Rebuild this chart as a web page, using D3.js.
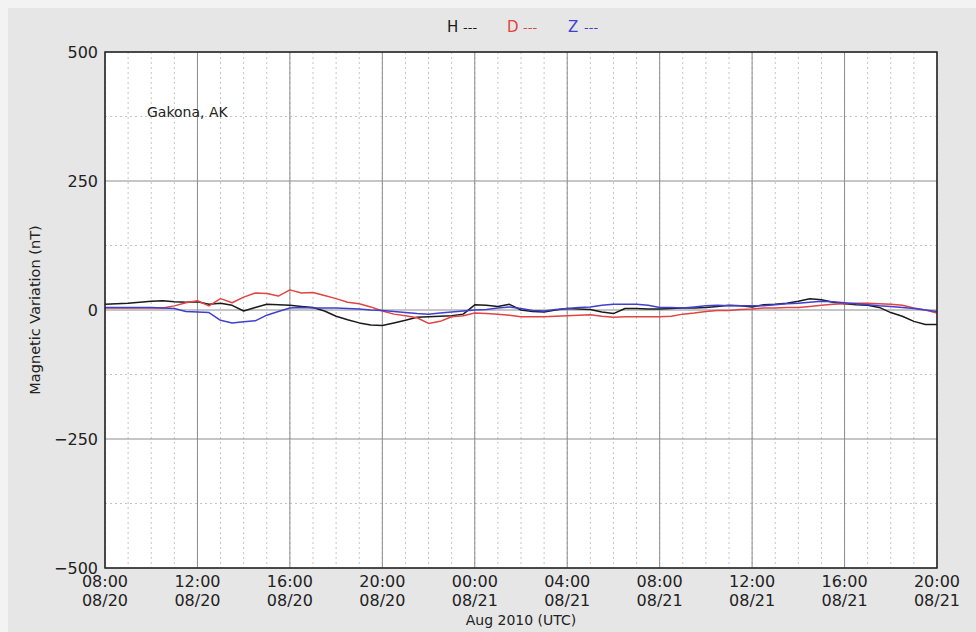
<!DOCTYPE html>
<html>
<head>
<meta charset="utf-8">
<script src="https://cdn.jsdelivr.net/npm/d3@7"></script>
<style>
  html, body { margin: 0; padding: 0; overflow: hidden; background: #f3f3f3; }
  svg { display: block; }
  text { font-family: "DejaVu Sans", sans-serif; fill: #222; }
</style>
</head>
<body>
<div id="chart"></div>
<script>
// Station and axis text.
const station = "Gakona, AK";
const yTicks = [-500, -250, 0, 250, 500];
const yMinorTicks = [-375, -125, 125, 375];
const xTickDates = ["08/20", "08/20", "08/20", "08/20", "08/21", "08/21", "08/21", "08/21", "08/21", "08/21"];

// Samples every 30 minutes, 2010-08-20 08:00 .. 2010-08-21 20:00 UTC.
const startTime = new Date(Date.UTC(2010, 7, 20, 8, 0));
const endTime = new Date(Date.UTC(2010, 7, 21, 20, 0));
const stepMinutes = 30;

const hValues = [11, 12, 13, 15, 17, 18, 16, 15, 16, 11, 13, 9, -2, 5, 11, 10, 9, 7, 5, -2,
  -12, -19, -25, -29, -30, -25, -20, -14, -13, -12, -11, -8, 10, 9, 7, 11, 0, -3, -4, 0,
  3, 2, 1, -4, -7, 3, 3, 2, 2, 3, 4, 4, 5, 7, 9, 8, 6, 10, 11, 13,
  17, 22, 20, 15, 12, 10, 9, 5, -5, -12, -22, -28, -28];
const dValues = [4, 4, 4, 4, 4, 4, 8, 14, 18, 8, 22, 14, 25, 33, 32, 27, 39, 33, 34, 28,
  22, 15, 12, 6, -2, -8, -11, -15, -26, -22, -13, -11, -6, -7, -8, -10, -13, -13, -13, -12,
  -11, -10, -9, -12, -14, -13, -13, -13, -13, -12, -8, -6, -3, -1, -1, 1, 2, 4, 4, 5,
  5, 7, 9, 11, 12, 13, 13, 12, 11, 9, 4, 0, -6];
const zValues = [5, 5, 5, 5, 5, 4, 3, -3, -4, -5, -20, -25, -23, -21, -10, -3, 4, 5, 4, 4,
  4, 3, 2, 0, -1, -3, -5, -7, -8, -6, -4, -2, 0, 1, 4, 6, 3, -1, -2, 1,
  3, 5, 6, 9, 11, 11, 11, 9, 5, 5, 4, 6, 8, 9, 8, 8, 8, 8, 10, 12,
  13, 15, 17, 16, 14, 12, 10, 8, 7, 5, 3, 0, -3];

const seriesNames = ["H", "D", "Z"];
const seriesColors = ["#1a1a1a", "#e04444", "#4040d0"];

// Chart elements.
let svg = null;
let plot = null;
let labels = null;
let xScale = null;
let yScale = null;

const width = 976;
const height = 632;
const padding = { top: 52, right: 39, bottom: 64, left: 105 };
const innerWidth = width - padding.left - padding.right;
const innerHeight = height - padding.top - padding.bottom;

function buildSeries(values) {
  return values.map((v, i) => ({
    time: new Date(startTime.getTime() + i * stepMinutes * 60000),
    value: v
  }));
}

function initializeSvg() {
  svg = d3.select("#chart")
    .append("svg")
    .attr("width", width)
    .attr("height", height);

  // Grey figure background.
  svg.append("rect")
    .attr("x", 8).attr("y", 8)
    .attr("width", width - 8).attr("height", height - 8)
    .attr("fill", "#e6e6e6");

  plot = svg.append("g")
    .attr("transform", `translate(${padding.left},${padding.top})`);

  plot.append("rect")
    .attr("width", innerWidth)
    .attr("height", innerHeight)
    .attr("fill", "#fff");

  // Texts live at the root, in page coordinates.
  labels = svg.append("g");
}

function initializeScales() {
  // Scales map straight to page coordinates; the plot group undoes the offset.
  xScale = d3.scaleUtc()
    .domain([startTime, endTime])
    .range([0, innerWidth]);

  yScale = d3.scaleLinear()
    .domain([-500, 500])
    .range([innerHeight, 0]);
}

function initializeGrid() {
  const hourTicks = d3.utcHour.every(1).range(startTime, d3.utcHour.offset(endTime, 1));
  const majorTicks = d3.utcHour.every(4).range(startTime, d3.utcHour.offset(endTime, 1));

  // Minor grid - dotted.
  plot.append("g")
    .selectAll("line")
    .data(hourTicks)
    .join("line")
    .attr("x1", (d) => xScale(d)).attr("x2", (d) => xScale(d))
    .attr("y1", 0).attr("y2", innerHeight)
    .attr("stroke", "#c4c4c4")
    .attr("stroke-width", 1)
    .attr("stroke-dasharray", "2,3");

  plot.append("g")
    .selectAll("line")
    .data(yMinorTicks)
    .join("line")
    .attr("x1", 0).attr("x2", innerWidth)
    .attr("y1", (d) => yScale(d)).attr("y2", (d) => yScale(d))
    .attr("stroke", "#c4c4c4")
    .attr("stroke-width", 1)
    .attr("stroke-dasharray", "2,3");

  // Major grid - solid.
  plot.append("g")
    .selectAll("line")
    .data(majorTicks)
    .join("line")
    .attr("x1", (d) => xScale(d)).attr("x2", (d) => xScale(d))
    .attr("y1", 0).attr("y2", innerHeight)
    .attr("stroke", "#8c8c8c")
    .attr("stroke-width", 1);

  plot.append("g")
    .selectAll("line")
    .data(yTicks)
    .join("line")
    .attr("x1", 0).attr("x2", innerWidth)
    .attr("y1", (d) => yScale(d)).attr("y2", (d) => yScale(d))
    .attr("stroke", "#8c8c8c")
    .attr("stroke-width", 1);
}

function initializeLines() {
  const line = d3.line()
    .x((d) => xScale(d.time))
    .y((d) => yScale(d.value));

  [hValues, dValues, zValues].forEach((values, i) => {
    plot.append("path")
      .datum(buildSeries(values))
      .attr("fill", "none")
      .attr("stroke", seriesColors[i])
      .attr("stroke-width", 1.5)
      .attr("stroke-linejoin", "round")
      .attr("d", line);
  });
}

function initializeAxis() {
  const majorTicks = d3.utcHour.every(4).range(startTime, d3.utcHour.offset(endTime, 1));
  const px = (d) => padding.left + xScale(d);
  const py = (d) => padding.top + yScale(d);
  const bottom = padding.top + innerHeight;

  // Frame.
  plot.append("rect")
    .attr("width", innerWidth)
    .attr("height", innerHeight)
    .attr("fill", "none")
    .attr("stroke", "#222")
    .attr("stroke-width", 1.5);

  // Y tick labels.
  labels.append("g")
    .selectAll("text")
    .data(yTicks)
    .join("text")
    .attr("x", padding.left - 7)
    .attr("y", (d) => py(d) + 6)
    .attr("text-anchor", "end")
    .style("font-size", "16px")
    .text((d) => d3.format("d")(d).replace("-", "\u2212"));

  // X tick labels - time line.
  labels.append("g")
    .selectAll("text")
    .data(majorTicks)
    .join("text")
    .attr("text-anchor", "middle")
    .attr("x", px)
    .attr("y", bottom + 19)
    .style("font-size", "16px")
    .text((d) => d3.utcFormat("%H:%M")(d));

  // X tick labels - date line.
  labels.append("g")
    .selectAll("text")
    .data(majorTicks)
    .join("text")
    .attr("text-anchor", "middle")
    .attr("x", px)
    .attr("y", bottom + 38)
    .style("font-size", "16px")
    .text((d, i) => xTickDates[i]);

  // X axis label.
  labels.append("text")
    .attr("text-anchor", "middle")
    .attr("x", padding.left + innerWidth / 2)
    .attr("y", bottom + 57)
    .style("font-size", "14px")
    .text("Aug 2010 (UTC)");

  // Y axis label.
  labels.append("text")
    .attr("text-anchor", "middle")
    .attr("transform", `translate(${padding.left - 65},${padding.top + innerHeight / 2})rotate(-90)`)
    .style("font-size", "14.5px")
    .text("Magnetic Variation (nT)");

  // Station name.
  labels.append("text")
    .attr("x", padding.left + 42)
    .attr("y", padding.top + 65)
    .style("font-size", "14px")
    .text(station);
}

function initializeLegend() {
  const legendX = [447, 507, 568];
  seriesNames.forEach((name, i) => {
    labels.append("text")
      .attr("x", legendX[i])
      .attr("y", 32)
      .style("font-size", "15px")
      .style("fill", seriesColors[i])
      .text(name);
    labels.append("text")
      .attr("x", legendX[i] + 16)
      .attr("y", 32)
      .style("font-size", "13px")
      .style("fill", seriesColors[i])
      .text("---");
  });
}

initializeSvg();
initializeScales();
initializeGrid();
initializeLines();
initializeAxis();
initializeLegend();
</script>
</body>
</html>
